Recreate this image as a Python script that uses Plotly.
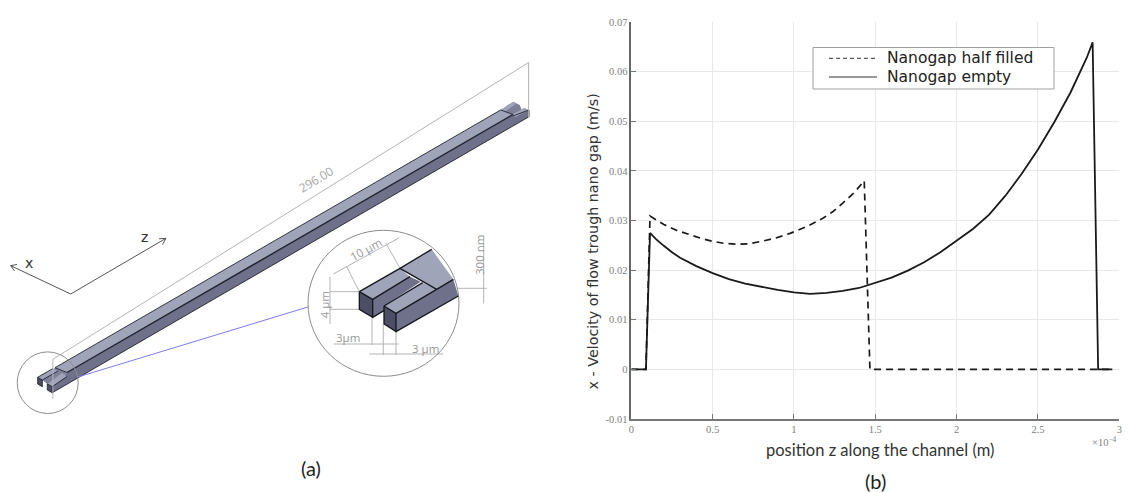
import plotly.graph_objects as go

W, H = 1129, 493

# ---------- chart data (z in units of 1e-4 m) ----------
z_half = [0, 0.09, 0.115, 0.16, 0.2, 0.28, 0.36, 0.43, 0.5, 0.57, 0.648, 0.72, 0.8, 0.88, 0.976, 1.08, 1.18, 1.24,
          1.30, 1.37, 1.432, 1.467, 2.0, 2.957]
v_half = [0, 0, 0.0309, 0.0300, 0.0292, 0.0280, 0.0271, 0.0264, 0.0258, 0.0254, 0.0252, 0.0253, 0.0258, 0.0264,
          0.0274, 0.0288, 0.0305, 0.0318, 0.0335, 0.0356, 0.0380, 0, 0, 0]
z_empty = [0, 0.09, 0.115, 0.15, 0.2, 0.25, 0.3, 0.4, 0.5, 0.6, 0.7, 0.8, 0.9, 1.0, 1.1, 1.2, 1.3, 1.4, 1.5, 1.6, 1.7,
           1.8, 1.9, 2.0, 2.1, 2.2, 2.3, 2.4, 2.5, 2.6, 2.7, 2.8, 2.836, 2.87, 2.957]
v_empty = [0, 0, 0.0275, 0.0263, 0.0249, 0.0236, 0.0225, 0.0208, 0.0194, 0.0182, 0.0173, 0.0166, 0.0160, 0.0155,
           0.0152, 0.0154, 0.0158, 0.0164, 0.0174, 0.0185, 0.0199, 0.0216, 0.0236, 0.0259, 0.0283, 0.0312, 0.0350,
           0.0394, 0.0443, 0.0498, 0.0558, 0.0628, 0.0659, 0, 0]
series_names = ["Nanogap half filled", "Nanogap empty"]
x_ticks = [0, 0.5, 1, 1.5, 2, 2.5, 3]
x_tick_labels = ["0", "0.5", "1", "1.5", "2", "2.5", "3"]
y_ticks = [-0.01, 0, 0.01, 0.02, 0.03, 0.04, 0.05, 0.06, 0.07]
y_tick_labels = ["-0.01", "0", "0.01", "0.02", "0.03", "0.04", "0.05", "0.06", "0.07"]

# ---------- schematic panel (a), page pixels ----------
TOP, SIDE, FRONT, MID = "#a0a4b9", "#6e7189", "#4c4e66", "#7d8098"
beam_faces = [
    ([(67, 372.5), (513, 114.5), (529, 110), (529, 116.7), (52.3, 392.7), (52.3, 386.7)], SIDE),
    ([(55, 367.7), (500.7, 110), (513, 114.5), (67, 372.5)], TOP),
    ([(42.3, 380), (55, 367.7), (67, 372.5), (52.3, 386.7), (47.3, 384)], MID),
    ([(37.7, 377.3), (42.3, 380), (58, 371), (53, 368.5)], TOP),
    ([(47.3, 384), (52.3, 386.7), (67, 376.5), (62, 373)], TOP),
    ([(37.7, 377.3), (42.3, 380), (42.3, 386.7), (37.7, 384)], FRONT),
    ([(47.3, 384), (52.3, 386.7), (52.3, 392.7), (47.3, 390)], FRONT),
    ([(500.7, 110), (513.3, 101.7), (519.7, 105), (521.7, 110), (513, 114.5)], MID),
    ([(500.7, 110), (513.3, 101.7), (516.5, 103.5), (505, 111.5)], TOP),
    ([(513, 114.5), (524.3, 107.7), (529, 110), (515, 117.3)], TOP),
]
beam_edges = [
    ([(55, 367.7), (500.7, 110)], 0.9),
    ([(67, 372.5), (513, 114.5)], 1.4),
    ([(52.3, 392.7), (529, 116.7), (529, 110), (513, 116)], 0.9),
    ([(55, 367.7), (67, 372.5)], 0.9),
    ([(500.7, 110), (513, 114.5)], 0.9),
    ([(37.7, 377.3), (37.7, 384), (42.3, 386.7), (42.3, 380), (37.7, 377.3), (53, 368.5)], 0.9),
    ([(47.3, 384), (47.3, 390), (52.3, 392.7), (52.3, 386.7), (47.3, 384)], 0.9),
    ([(52.3, 386.7), (67, 376.5)], 0.9),
    ([(42.3, 380), (58, 371)], 0.9),
]
# inset geometry, in 3x crop units relative to page point (300, 220)
inset_faces = [
    ([(288, 280), (410, 208), (460, 178), (475, 228), (288, 335)], SIDE),
    ([(300, 145), (395, 88), (460, 178), (410, 208)], TOP),
    ([(218, 238), (330, 170), (362, 185), (252, 258), (252, 272), (218, 292)], SIDE),
    ([(178, 215), (218, 238), (330, 170), (300, 145)], TOP),
    ([(252, 258), (288, 280), (410, 208), (368, 188)], TOP),
    ([(178, 215), (218, 238), (218, 292), (178, 268)], FRONT),
    ([(252, 258), (288, 280), (288, 335), (252, 312)], FRONT),
]
inset_edges = [
    [(178, 215), (300, 145), (395, 88)],
    [(300, 145), (410, 208)],
    [(218, 238), (330, 170)],
    [(252, 258), (368, 188)],
    [(288, 280), (410, 208), (460, 178)],
    [(288, 335), (475, 228)],
    [(178, 215), (218, 238), (218, 292), (178, 268), (178, 215)],
    [(252, 258), (288, 280), (288, 335), (252, 312), (252, 258)],
    [(218, 292), (252, 272)],
]
dim_lines = [
    [(52.9, 359.3), (528.6, 62.5)], [(52.9, 359.3), (52.9, 399)], [(528.6, 62.5), (528.6, 118)],
    [(333.3, 274), (399.3, 237.7)], [(359.3, 291.7), (346.7, 266.7)], [(400, 268.3), (386, 243.3)],
    [(330, 291.7), (359.3, 291.7)], [(330, 309.3), (359.3, 309.3)], [(330, 276.7), (330, 324)],
    [(334, 344), (398.3, 344)], [(372, 317.3), (372, 345)], [(383.3, 324), (383.3, 355)], [(396, 331.7), (396, 355)],
    [(369.3, 354), (443.3, 354)],
    [(483.7, 236), (483.7, 303.3)], [(456.7, 288.3), (486.7, 288.3)],
]
axis_arrows = [
    [(10.7, 265.7), (70.7, 294), (166, 238.3)],
    [(17, 264.5), (10.7, 265.7), (14.5, 271)],
    [(159, 238.8), (166, 238.3), (162.5, 244.5)],
]
zoom_ray = [(307.9, 307), (77.9, 377)]
left_circle = (47.7, 382.7, 30.5, 30.8)
inset_circle = (383.5, 303.3, 75.5, 73)
legend_box = (813, 47.5, 1054, 89)
legend_sample_x = (829, 877)
legend_rows_y = (58.3, 77)
legend_text_x = 885
panel_labels = [
    ("296.00", 316, 179, -31, 12, "#a6a6a6", "Open Sans"),
    ("10 µm", 365.7, 249.3, -29, 11.5, "#999999", "Open Sans"),
    ("4 µm", 324.3, 305, -90, 11.5, "#999999", "Open Sans"),
    ("3µm", 347.7, 337.7, 0, 11.5, "#999999", "Open Sans"),
    ("3 µm", 425, 348.3, 0, 11.5, "#999999", "Open Sans"),
    ("300 nm", 479, 255, -90, 11.5, "#999999", "Open Sans"),
    ("x", 28.6, 262.7, 0, 14, "#333333", "DejaVu Sans"),
    ("z", 144.6, 236.7, 0, 14, "#333333", "DejaVu Sans"),
    ("(a)", 311, 468, 0, 20, "#222222", "Lato"),
    ("(b)", 875.7, 481, 0, 20, "#222222", "Lato"),
    ("position z along the channel (m)", 880, 450, 0, 16.5, "#333333", "Lato"),
    ("x - Velocity of flow trough nano gap (m/s)", 592, 241.5, -90, 14.3, "#333333", "DejaVu Sans"),
]


def px(x):
    return x / W


def py(y):
    return 1 - y / H


def inset(pts):
    return [(300 + x / 3, 220 + y / 3) for x, y in pts]


def path(pts, close=False):
    s = "M " + " L ".join(f"{px(x):.5f},{py(y):.5f}" for x, y in pts)
    return s + " Z" if close else s


def shp(pts, color, width):
    return dict(type="path", xref="paper", yref="paper", path=path(pts),
                line=dict(color=color, width=width), layer="above")


def face(pts, col):
    return dict(type="path", xref="paper", yref="paper", path=path(pts, True),
                fillcolor=col, line=dict(width=0), layer="above")


shapes = []
for pts, col in beam_faces:
    shapes.append(face(pts, col))
for pts, w in beam_edges:
    shapes.append(shp(pts, "#20222e", w))
for pts in dim_lines:
    shapes.append(shp(pts, "#b4b4b4", 1))
for pts in axis_arrows:
    shapes.append(shp(pts, "#555555", 1))
shapes.append(shp(zoom_ray, "#7b7bf0", 1))
for cx, cy, rx, ry in (left_circle, inset_circle):
    shapes.append(dict(type="circle", xref="paper", yref="paper",
                       x0=px(cx - rx), x1=px(cx + rx), y0=py(cy + ry), y1=py(cy - ry),
                       line=dict(color="#8c8c8c", width=1), layer="above"))
for pts, col in inset_faces:
    shapes.append(face(inset(pts), col))
for pts in inset_edges:
    shapes.append(shp(inset(pts), "#15161e", 1.3))

# legend box with its two line samples
lx0, ly0, lx1, ly1 = legend_box
shapes.append(dict(type="rect", xref="paper", yref="paper", x0=px(lx0), x1=px(lx1), y0=py(ly1), y1=py(ly0),
                   fillcolor="white", line=dict(color="#a0a0a0", width=1), layer="above"))
sx0, sx1 = legend_sample_x
for row_y, dash in zip(legend_rows_y, ("4px,3px", "solid")):
    shapes.append(dict(type="line", xref="paper", yref="paper", x0=px(sx0), x1=px(sx1), y0=py(row_y), y1=py(row_y),
                       line=dict(color="#333333", width=1, dash=dash), layer="above"))

annotations = [
    dict(text=t, x=px(x), y=py(y), xref="paper", yref="paper", showarrow=False,
         textangle=a, xanchor="center", yanchor="middle",
         font=dict(size=s, color=c, family=f))
    for t, x, y, a, s, c, f in panel_labels
]
for name, row_y in zip(series_names, legend_rows_y):
    annotations.append(dict(text=name, x=px(legend_text_x), y=py(row_y), xref="paper", yref="paper",
                            showarrow=False, xanchor="left", yanchor="middle",
                            font=dict(family="DejaVu Sans", size=15.5, color="#222222")))
annotations.append(dict(text="×10<sup>−4</sup>", x=px(1119), y=py(441), xref="paper", yref="paper",
                        showarrow=False, xanchor="right", yanchor="middle",
                        font=dict(size=10.5, color="#808080", family="Liberation Serif")))

fig = go.Figure()
fig.add_trace(go.Scatter(x=z_empty, y=v_empty, mode="lines", name=series_names[1],
                         line=dict(color="#1a1a1a", width=1.8)))
fig.add_trace(go.Scatter(x=z_half, y=v_half, mode="lines", name=series_names[0],
                         line=dict(color="#1a1a1a", width=1.7, dash="7px,5px")))

tick_font = dict(size=10.5, color="#808080", family="Liberation Serif")
fig.update_layout(
    width=W, height=H, margin=dict(l=0, r=0, t=0, b=0), autosize=False,
    paper_bgcolor="white", plot_bgcolor="white", showlegend=False,
    shapes=shapes, annotations=annotations,
    xaxis=dict(domain=[px(631.3), px(1119.3)], range=[0, 3], tickvals=x_ticks, ticktext=x_tick_labels,
               showgrid=True, gridcolor="#e8e8e8", gridwidth=1, zeroline=False,
               showline=True, linecolor="#777777", linewidth=1.5, ticks="inside", ticklen=5,
               tickcolor="#777777", tickfont=tick_font, automargin=False),
    yaxis=dict(domain=[py(419), py(22)], range=[-0.01, 0.07], tickvals=y_ticks, ticktext=y_tick_labels,
               showgrid=True, gridcolor="#e8e8e8", gridwidth=1, zeroline=False,
               showline=True, linecolor="#666666", linewidth=1.5, ticks="inside", ticklen=5,
               tickcolor="#777777", tickfont=tick_font, automargin=False),
)
fig.write_html("out.html", config={"displayModeBar": False}, post_script="document.body.style.margin='0';")
